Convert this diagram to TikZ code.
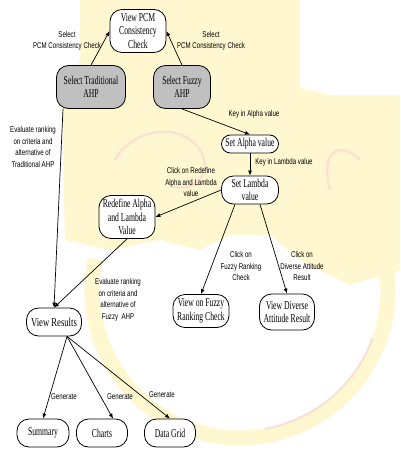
\documentclass[tikz,border=0pt]{standalone}
\usepackage{fontspec}
\newfontfamily\nodefont[FakeStretch=0.64]{Liberation Serif}
\newfontfamily\wnodefont[FakeStretch=0.72]{Liberation Serif}
\newfontfamily\lblfont[FakeStretch=0.73]{Liberation Sans}
\usetikzlibrary{arrows.meta}
\definecolor{bgyellow}{RGB}{255,247,208}
\definecolor{bgpink}{RGB}{250,205,210}
\definecolor{boxgray}{RGB}{192,192,192}
\begin{document}
\begin{tikzpicture}[x=1pt,y=-1pt,
  box/.style={draw, line width=0.8pt, rounded corners=12pt, inner sep=0pt,
    align=center, fill=white, font=\nodefont\fontsize{12}{13.5}\selectfont},
  graybox/.style={box, fill=boxgray},
  lbl/.style={align=center, inner sep=0pt, font=\lblfont\fontsize{8.4}{11.5}\selectfont},
  arr/.style={line width=0.7pt, -{Latex[length=5pt,width=4pt]}}
]
\useasboundingbox (0,0) rectangle (400,450);
% background watermark
\fill[white] (0,0) rectangle (400,450);
\fill[bgyellow] (80,0) -- (300,0) -- (300,88) -- (330,95) -- (400,95) -- (400,270)
  -- (350,285) -- (300,260) -- (270,235) -- (230,235) -- (200,250) -- (160,240)
  -- (110,250) -- (65,240) -- (62,110) -- (80,60) -- cycle;
\draw[bgyellow, line width=15pt] (240,290) ++(-8:148) arc[start angle=-8, end angle=192, radius=148];
\draw[bgpink, line width=2pt, opacity=0.6] (240,290) ++(20:141) arc[start angle=20, end angle=80, radius=141];
\draw[bgpink, line width=2.5pt, opacity=0.5] (115,160) .. controls (130,130) and (180,120) .. (200,150)
  .. controls (215,175) and (190,195) .. (170,185);
\draw[bgpink, line width=2.5pt, opacity=0.5] (330,190) .. controls (320,150) and (340,140) .. (360,160);

% nodes
\node[box, minimum width=56pt, minimum height=43pt] (pcm) at (138,31) {View PCM\\Consistency\\Check};
\node[graybox, minimum width=69pt, minimum height=43pt] (trad) at (91,87) {Select Traditional\\AHP};
\node[graybox, minimum width=57pt, minimum height=43pt] (fuzzy) at (182,87) {Select Fuzzy\\AHP};
\node[box, rounded corners=9pt, minimum width=57pt, minimum height=18pt] (alpha) at (250,144) {Set Alpha value};
\node[box, minimum width=57pt, minimum height=28pt] (lambda) at (250,190) {Set Lambda\\value};
\node[box, minimum width=56pt, minimum height=43pt] (redef) at (127,217) {Redefine Alpha\\and Lambda\\Value};
\node[box, minimum width=55pt, minimum height=28pt, font=\wnodefont\fontsize{12}{13.5}\selectfont] (results) at (54,322) {View Results};
\node[box, minimum width=56pt, minimum height=33pt] (fzr) at (201,311) {View on Fuzzy\\Ranking Check};
\node[box, minimum width=55pt, minimum height=36pt] (div) at (287,312) {View Diverse\\Attitude Result};
\node[box, minimum width=52pt, minimum height=28pt] (summary) at (43,433) {Summary};
\node[box, minimum width=51pt, minimum height=28pt] (charts) at (102,433) {Charts};
\node[box, minimum width=51pt, minimum height=28pt] (grid) at (170,433) {Data Grid};

% labels
\node[lbl] (l1) at (67,41) {Select\\PCM Consistency Check};
\node[lbl] (l2) at (211,41) {Select\\PCM Consistency Check};
\node[lbl] (l3) at (254,114) {Key in Alpha value};
\node[lbl] (l4) at (284,162) {Key in Lambda value};
\node[lbl] (l5) at (191,182) {Click on Redefine\\Alpha and Lambda\\value};
\node[lbl] (l6) at (33,147) {Evaluate ranking\\on criteria and\\alternative of\\Traditional AHP};
\node[lbl] (l7) at (241,266) {Click on\\Fuzzy Ranking\\Check};
\node[lbl] (l8) at (302,266) {Click on\\Diverse Attitude\\Result};
\node[lbl] (l9) at (118,300) {Evaluate ranking\\on criteria and\\alternative of\\Fuzzy\ \ AHP};
\node[lbl] (l10) at (64,397) {Generate};
\node[lbl] (l11) at (120,397) {Generate};
\node[lbl] (l12) at (162,395) {Generate};

% connectors
\draw[arr] (trad.north) -- (pcm.west);
\draw[arr] (fuzzy.north) -- (pcm.east);
\draw[arr] (fuzzy.south) -- (alpha.north);
\draw[arr] (alpha.south) -- (lambda.north);
\draw[arr] (lambda.west) -- (redef.east);
\draw[arr] ([xshift=-15pt]lambda.south) -- (fzr.north);
\draw[arr] ([xshift=10pt]lambda.south) -- (div.north);
\draw[arr] ([xshift=-28pt]trad.south) -- (results.north);
\draw[arr] (redef.south) -- (results.north);
\draw[arr] ([xshift=13pt]results.south) -- (summary.north);
\draw[arr] ([xshift=13pt]results.south) -- ([xshift=11pt]charts.north);
\draw[arr] ([xshift=13pt]results.south) -- (grid.north);
\end{tikzpicture}
\end{document}
